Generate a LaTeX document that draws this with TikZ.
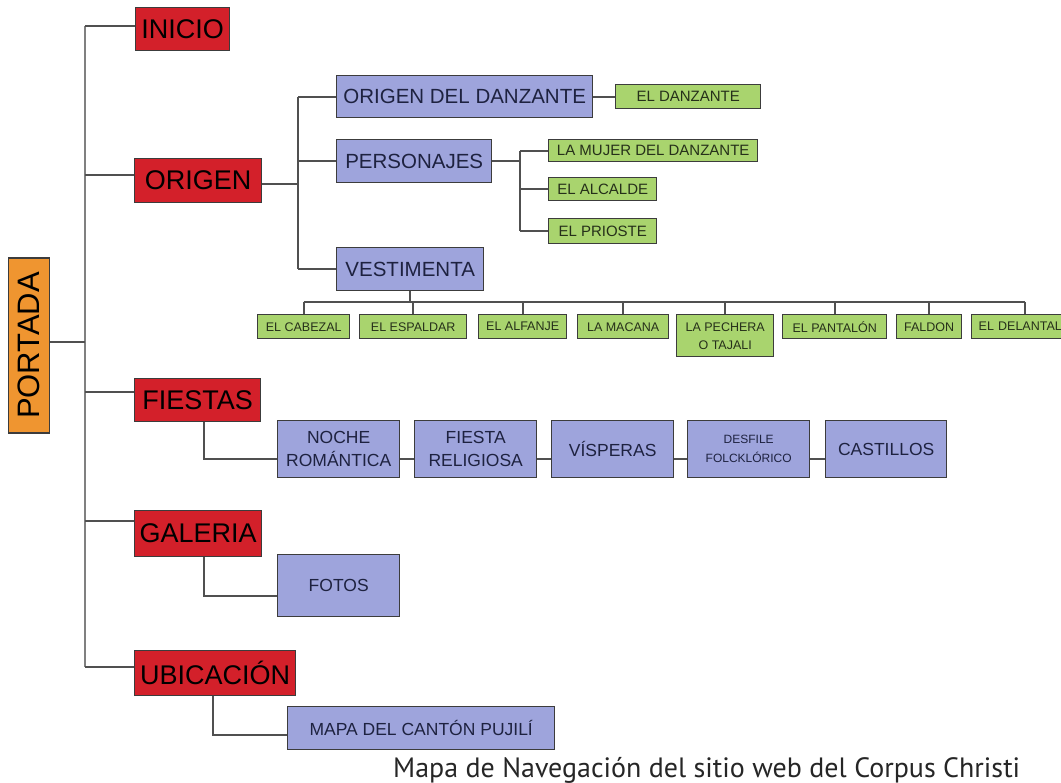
\documentclass[tikz,border=0pt]{standalone}
\usepackage{fontspec}
\setmainfont{Liberation Sans}
\newfontfamily\capfont{PT Sans}
\definecolor{redc}{HTML}{D3202A}
\definecolor{orangec}{HTML}{EF9530}
\definecolor{bluec}{HTML}{9EA4DC}
\definecolor{greenc}{HTML}{A9D46E}
\definecolor{boxline}{HTML}{3C3C3C}
\definecolor{linec}{HTML}{505050}
\definecolor{trunkc}{HTML}{808080}
\definecolor{bluetext}{HTML}{1E2240}
\definecolor{greentext}{HTML}{26301A}
\begin{document}
\begin{tikzpicture}[x=1pt,y=-1pt,
  box/.style={draw=boxline, line width=1.4pt, inner sep=0pt, anchor=north west, align=center},
  redbox/.style={box, fill=redc, text=black, font=\fontsize{27}{27}\selectfont},
  orangebox/.style={draw=boxline, line width=1.4pt, inner sep=0pt, fill=orangec, text=black, font=\fontsize{31}{31}\selectfont},
  bluebox/.style={box, fill=bluec, text=bluetext, font=\fontsize{20.5}{24}\selectfont},
  bluelow/.style={box, fill=bluec, text=bluetext, font=\fontsize{17.5}{22.5}\selectfont},
  greenbox/.style={box, fill=greenc, text=greentext, font=\fontsize{15}{18}\selectfont},
  greenlow/.style={box, fill=greenc, text=greentext, font=\fontsize{12.5}{18}\selectfont},
  conn/.style={draw=linec, line width=1.8pt},
  trunk/.style={draw=trunkc, line width=2.4pt}
]
\useasboundingbox (0,0) rectangle (1061,783);
\clip (0,0) rectangle (1061,783);
\fill[white] (0,0) rectangle (1061,783);

% level 0 and 1
\node[orangebox, minimum width=41pt, minimum height=175pt] (portada) at (29,345.5) {\rotatebox{90}{PORTADA}};
\node[redbox, minimum width=94pt, minimum height=43pt] (inicio) at (135,7) {INICIO};
\node[redbox, minimum width=127pt, minimum height=44pt] (origen) at (134,158) {ORIGEN};
\node[redbox, minimum width=126pt, minimum height=43pt] (fiestas) at (134,378) {FIESTAS};
\node[redbox, minimum width=127pt, minimum height=46pt] (galeria) at (134,510) {GALERIA};
\node[redbox, minimum width=161pt, minimum height=45pt] (ubic) at (134,650) {UBICACIÓN};

% ORIGEN branch
\node[bluebox, minimum width=256pt, minimum height=42pt] (odd) at (336,75) {ORIGEN DEL DANZANTE};
\node[greenbox, minimum width=145pt, minimum height=24pt] (eldanz) at (615,84) {EL DANZANTE};
\node[bluebox, minimum width=155pt, minimum height=43pt] (pers) at (336,139) {PERSONAJES};
\node[greenbox, minimum width=209pt, minimum height=22pt] (mujer) at (548,139) {LA MUJER DEL DANZANTE};
\node[greenbox, minimum width=108pt, minimum height=23pt] (alcalde) at (548,177) {EL ALCALDE};
\node[greenbox, minimum width=108pt, minimum height=25pt] (prioste) at (548,218) {EL PRIOSTE};
\node[bluebox, minimum width=147pt, minimum height=43pt] (vest) at (336,247) {VESTIMENTA};

\node[greenlow, minimum width=92pt, minimum height=24pt] (cabezal) at (257,314) {EL CABEZAL};
\node[greenlow, minimum width=107pt, minimum height=24pt] (espaldar) at (359,314) {EL ESPALDAR};
\node[greenlow, minimum width=88pt, minimum height=24pt] (alfanje) at (478,314) {EL ALFANJE};
\node[greenlow, minimum width=91pt, minimum height=24pt] (macana) at (577,314) {LA MACANA};
\node[greenlow, minimum width=97pt, minimum height=42pt] (pechera) at (676,314) {LA PECHERA\\O TAJALI};
\node[greenlow, minimum width=104pt, minimum height=24pt] (pantalon) at (782,314) {EL PANTALÓN};
\node[greenlow, minimum width=65pt, minimum height=24pt] (faldon) at (896,314) {FALDON};
\node[greenlow, minimum width=106pt, minimum height=24pt, text width=92pt, align=left] (delantal) at (971,314) {EL DELANTAL};

% FIESTAS branch
\node[bluelow, minimum width=122pt, minimum height=57pt] (noche) at (277,420) {NOCHE\\ROMÁNTICA};
\node[bluelow, minimum width=122pt, minimum height=57pt] (fiestarel) at (414,420) {FIESTA\\RELIGIOSA};
\node[bluelow, minimum width=122pt, minimum height=57pt] (visperas) at (551,420) {VÍSPERAS};
\node[bluelow, minimum width=122pt, minimum height=57pt, font=\fontsize{12}{19}\selectfont] (desfile) at (687,420) {DESFILE\\FOLCKLÓRICO};
\node[bluelow, minimum width=121pt, minimum height=57pt] (castillos) at (825,420) {CASTILLOS};

% GALERIA and UBICACION branches
\node[bluelow, minimum width=122pt, minimum height=62pt] (fotos) at (277,554) {FOTOS};
\node[bluelow, minimum width=267pt, minimum height=43pt] (mapa) at (287,706) {MAPA DEL CANTÓN PUJILÍ};

% caption
\node[anchor=base west, inner sep=0pt, text=black!85] (caption) at (393,777)
  {\resizebox{627pt}{!}{\capfont\fontsize{28}{28}\selectfont Mapa de Navegación del sitio web del Corpus Christi}};

% connection points
\coordinate (T) at (85,0);
\coordinate (T2) at (298,0);
\coordinate (T3) at (520,0);
\coordinate (B) at (0,302);
\coordinate (pPortada) at ([yshift=3.5pt]portada.east);
\coordinate (pInicio) at ([yshift=3.5pt]inicio.west);
\coordinate (pOrigen) at ([yshift=6pt]origen.west);
\coordinate (pFiestas) at ([yshift=8.5pt]fiestas.west);
\coordinate (pGaleria) at ([yshift=13pt]galeria.west);
\coordinate (pUbic) at ([yshift=6.5pt]ubic.west);
\coordinate (qOrigen) at ([yshift=-3pt]origen.east);
\coordinate (qFiestas) at ([xshift=6pt]fiestas.south);
\coordinate (qGaleria) at ([xshift=5.5pt]galeria.south);
\coordinate (qUbic) at ([xshift=-2.5pt]ubic.south);
\coordinate (inNoche) at ([yshift=-9.5pt]noche.west);
\coordinate (outNoche) at ([yshift=-9.5pt]noche.east);
\coordinate (inFrel) at ([yshift=-9.5pt]fiestarel.west);
\coordinate (outFrel) at ([yshift=-9.5pt]fiestarel.east);
\coordinate (inVisp) at ([yshift=-9.5pt]visperas.west);
\coordinate (outVisp) at ([yshift=-9.5pt]visperas.east);
\coordinate (inDesf) at ([yshift=-9.5pt]desfile.west);
\coordinate (outDesf) at ([yshift=-9.5pt]desfile.east);
\coordinate (inCast) at ([yshift=-9.5pt]castillos.west);
\coordinate (inFotos) at ([yshift=-10pt]fotos.west);
\coordinate (inMapa) at ([yshift=-6.5pt]mapa.west);

% main trunk
\draw[trunk] (T |- pInicio) -- (T |- pUbic);
\draw[conn] (pPortada) -- (T |- pPortada);
\foreach \p in {pInicio,pOrigen,pFiestas,pGaleria,pUbic}
  \draw[conn] (T |- \p) -- (\p);

% ORIGEN branch
\draw[conn] (qOrigen) -- (T2 |- qOrigen);
\draw[conn] (T2 |- odd.west) -- (T2 |- vest.west);
\foreach \n in {odd,pers,vest}
  \draw[conn] (T2 |- \n.west) -- (\n.west);
\draw[conn] (odd.east) -- (eldanz.west);
\draw[conn] (pers.east) -- (T3 |- pers.east);
\draw[conn] (T3 |- mujer.west) -- (T3 |- prioste.west);
\foreach \n in {mujer,alcalde,prioste}
  \draw[conn] (T3 |- \n.west) -- (\n.west);
\draw[conn] (vest.south) -- (vest.south |- B);
\draw[conn] (cabezal.north |- B) -- (delantal.north |- B);
\foreach \n in {cabezal,espaldar,alfanje,macana,pechera,pantalon,faldon,delantal}
  \draw[conn] (\n.north |- B) -- (\n.north);

% FIESTAS branch
\draw[conn] (qFiestas) |- (inNoche);
\draw[conn] (outNoche) -- (inFrel);
\draw[conn] (outFrel) -- (inVisp);
\draw[conn] (outVisp) -- (inDesf);
\draw[conn] (outDesf) -- (inCast);

% GALERIA / UBICACION
\draw[conn] (qGaleria) |- (inFotos);
\draw[conn] (qUbic) |- (inMapa);
\end{tikzpicture}
\end{document}
